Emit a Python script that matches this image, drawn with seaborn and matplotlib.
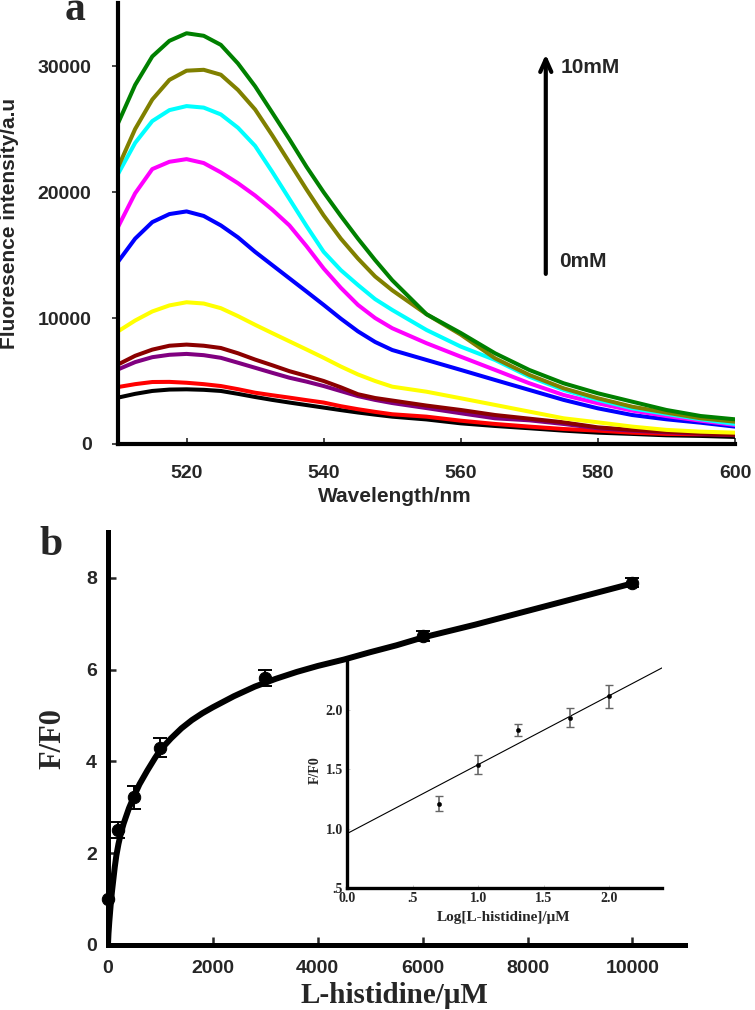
import numpy as np
import pandas as pd
import seaborn as sns
from matplotlib import pyplot as plt

# ---- panel a: emission spectra (0 mM -> 10 mM) ----
wavelength = [510, 512.5, 515, 517.5, 520, 522.5, 525, 527.5, 530, 532.5,
              535, 537.5, 540, 542.5, 545, 547.5, 550, 555, 560, 565,
              570, 575, 580, 585, 590, 595, 600]

spectra = {
    "0mM":  [3680, 3980, 4210, 4320, 4340, 4300, 4210, 3980, 3730, 3500,
             3290, 3090, 2890, 2690, 2500, 2330, 2170, 1950, 1640, 1430,
             1250, 1060, 900, 800, 690, 640, 560],
    "c1":   [4520, 4750, 4920, 4930, 4860, 4750, 4600, 4350, 4070, 3870,
             3680, 3480, 3290, 3000, 2760, 2550, 2360, 2170, 1850, 1590,
             1380, 1190, 1060, 900, 800, 770, 750],
    "c2":   [5920, 6500, 6890, 7080, 7150, 7050, 6840, 6450, 6050, 5650,
             5260, 4950, 4600, 4200, 3800, 3500, 3250, 2850, 2440, 2040,
             1880, 1590, 1250, 1060, 930, 820, 700],
    "c3":   [6310, 7000, 7490, 7800, 7890, 7800, 7620, 7200, 6700, 6250,
             5780, 5400, 5000, 4500, 3950, 3650, 3450, 3050, 2700, 2300,
             2010, 1720, 1320, 1120, 980, 850, 720],
    "c4":   [8940, 9800, 10520, 11000, 11250, 11150, 10780, 10150, 9460, 8800,
             8150, 7500, 6840, 6150, 5520, 5000, 4550, 4150, 3630, 3100,
             2570, 2040, 1720, 1380, 1120, 980, 900],
    "c5":   [14460, 16300, 17610, 18250, 18460, 18100, 17350, 16400, 15250, 14200,
             13150, 12100, 11040, 9950, 8940, 8100, 7460, 6670, 5880, 5080,
             4290, 3500, 2830, 2300, 1960, 1690, 1380],
    "c6":   [17220, 19900, 21820, 22400, 22610, 22300, 21560, 20700, 19720, 18600,
             17350, 15700, 13930, 12400, 11040, 10000, 9190, 8000, 6930, 5880,
             4820, 3890, 3230, 2650, 2220, 1850, 1510],
    "c7":   [21430, 23900, 25630, 26500, 26820, 26700, 26160, 25100, 23660, 21600,
             19450, 17300, 15250, 13800, 12620, 11500, 10640, 9050, 7730, 6670,
             5340, 4290, 3500, 2830, 2380, 1960, 1590],
    "c8":   [21950, 25000, 27340, 28900, 29630, 29700, 29310, 28100, 26550, 24500,
             22350, 20200, 18140, 16300, 14720, 13300, 12200, 10300, 8680, 6800,
             5480, 4420, 3630, 2960, 2490, 2040, 1770],
    "10mM": [25450, 28500, 30760, 32000, 32600, 32400, 31680, 30200, 28390, 26300,
             24190, 22000, 19980, 18100, 16300, 14600, 13000, 10300, 8810, 7200,
             5875, 4820, 4025, 3360, 2700, 2220, 1960],
}
spectra_colors = ["#000000", "#ff0000", "#800080", "#8b0000", "#ffff00",
                  "#0000ff", "#ff00ff", "#00ffff", "#808000", "#008000"]

a_xticks = [520, 540, 560, 580, 600]
a_yticks = [0, 10000, 20000, 30000]

# ---- panel b: F/F0 vs L-histidine ----
conc = [0, 200, 500, 1000, 3000, 6000, 10000]
ratio = [1.0, 2.51, 3.22, 4.30, 5.81, 6.74, 7.89]
ratio_err = [0.0, 0.17, 0.25, 0.20, 0.175, 0.11, 0.10]

# fitted curve
fit_conc = [0, 10, 25, 50, 75, 100, 130, 160, 200, 250, 300, 400, 500, 600,
            750, 900, 1000, 1200, 1400, 1600, 1800, 2000, 2400, 2800, 3200,
            3600, 4000, 4500, 5000, 5500, 6000, 7000, 8000, 9000, 10000]
fit_ratio = [0.0, 0.25, 0.5, 0.85, 1.15, 1.4, 1.7, 1.95, 2.2, 2.45, 2.65, 2.98,
             3.25, 3.5, 3.8, 4.08, 4.25, 4.5, 4.72, 4.9, 5.05, 5.18, 5.42, 5.63,
             5.8, 5.95, 6.08, 6.22, 6.38, 6.53, 6.7, 6.98, 7.28, 7.58, 7.88]

b_xticks = [0, 2000, 4000, 6000, 8000, 10000]
b_yticks = [0, 2, 4, 6, 8]

# ---- inset: F/F0 vs log concentration ----
log_conc = [0.699, 1.0, 1.301, 1.699, 2.0]
log_ratio = [1.21, 1.537, 1.825, 1.93, 2.11]
log_err = [0.06, 0.08, 0.05, 0.08, 0.10]
line_x = [0.0, 2.4]
line_y = [0.957, 2.35]

in_xticks = [0.0, 0.5, 1.0, 1.5, 2.0]
in_xlabels = ["0.0", ".5", "1.0", "1.5", "2.0"]
in_yticks = [0.5, 1.0, 1.5, 2.0]
in_ylabels = [".5", "1.0", "1.5", "2.0"]

sns.set_style("ticks")
plt.rcParams["font.family"] = ["Liberation Sans", "DejaVu Sans"]
SERIF = ["Liberation Serif", "DejaVu Serif"]

fig = plt.figure(figsize=(7.55, 10.1), dpi=100)


def style_spines(ax, width):
    for side in ("top", "right"):
        ax.spines[side].set_visible(False)
    for side in ("left", "bottom"):
        ax.spines[side].set_linewidth(width)
        ax.spines[side].set_color("black")


# ================= panel a =================
ax_a = fig.add_axes([0.1563, 0.5604, 0.8172, 0.4366])
spec_df = pd.DataFrame(
    [(w, v, name) for name, vals in spectra.items() for w, v in zip(wavelength, vals)],
    columns=["wavelength", "intensity", "conc"],
)
sns.lineplot(data=spec_df, x="wavelength", y="intensity", hue="conc",
             palette=spectra_colors, linewidth=2.9, legend=False, ax=ax_a)
ax_a.set_xlim(510, 600)
ax_a.set_ylim(0, 35000)
style_spines(ax_a, 3)
ax_a.set_xticks(a_xticks, [str(t) for t in a_xticks], fontsize=14, fontweight="bold")
ax_a.set_yticks(a_yticks, [str(t) for t in a_yticks], fontsize=14, fontweight="bold")
ax_a.tick_params(axis="x", direction="in", length=4, width=1.2, pad=15)
ax_a.tick_params(axis="y", direction="out", length=4, width=1.2, pad=15)
ax_a.set_xlabel("Wavelength/nm", fontsize=15, fontweight="bold")
ax_a.set_ylabel("Fluoresence intensity/a.u", fontsize=15, fontweight="bold")
ax_a.xaxis.set_label_coords(0.448, -0.097)
ax_a.yaxis.set_label_coords(-0.160, 0.5)

ax_a.annotate("", xy=(572.4, 31150), xytext=(572.4, 13280),
              arrowprops=dict(arrowstyle="->,head_length=0.9,head_width=0.4",
                              lw=3, color="black"))
ax_a.text(574.5, 29890, "10mM", fontsize=15, fontweight="bold", va="center", ha="left")
ax_a.text(574.3, 14480, "0mM", fontsize=15, fontweight="bold", va="center", ha="left")

# ================= panel b =================
ax_b = fig.add_axes([0.1430, 0.0644, 0.7642, 0.4089])
sns.lineplot(x=fit_conc, y=fit_ratio, color="black", linewidth=4.3, ax=ax_b)
ax_b.errorbar(conc, ratio, yerr=ratio_err, fmt="none", ecolor="black",
              elinewidth=1.4, capsize=5, capthick=1.4, zorder=3)
sns.scatterplot(x=conc, y=ratio, color="black", s=80, edgecolor="black",
                zorder=4, ax=ax_b, clip_on=False)
ax_b.set_xlim(0, 11000)
ax_b.set_ylim(0, 9)
style_spines(ax_b, 3.6)
ax_b.set_xticks(b_xticks, [str(t) for t in b_xticks], fontsize=14, fontweight="bold")
ax_b.set_yticks(b_yticks, [str(t) for t in b_yticks], fontsize=14, fontweight="bold")
ax_b.tick_params(axis="both", direction="in", length=6, width=1.8)
ax_b.tick_params(axis="x", pad=11)
ax_b.tick_params(axis="y", pad=8)
ax_b.set_xlabel("L-histidine/\u03bcM", fontsize=21, fontweight="bold", family=SERIF)
ax_b.set_ylabel("F/F0", fontsize=22, fontweight="bold", family=SERIF)
ax_b.xaxis.set_label_coords(0.497, -0.090)
ax_b.yaxis.set_label_coords(-0.071, 0.5)

# ================= inset =================
ax_in = fig.add_axes([0.4596, 0.1208, 0.4172, 0.2238])
ax_in.patch.set_alpha(0)
sns.lineplot(x=line_x, y=line_y, color="black", linewidth=0.8, ax=ax_in)
ax_in.errorbar(log_conc, log_ratio, yerr=log_err, fmt="none", ecolor="0.4",
               elinewidth=1.2, capsize=3, capthick=1.0, zorder=3)
sns.scatterplot(x=log_conc, y=log_ratio, color="black", s=10, edgecolor="black",
                zorder=4, ax=ax_in)
ax_in.set_xlim(0, 2.4)
ax_in.set_ylim(0.5, 2.4)
style_spines(ax_in, 2.4)
ax_in.set_xticks(in_xticks, in_xlabels, fontsize=10, fontweight="bold", family=SERIF)
ax_in.set_yticks(in_yticks, in_ylabels, fontsize=10, fontweight="bold", family=SERIF)
ax_in.tick_params(axis="both", direction="in", length=2, width=0.6, color="0.75", pad=3)
ax_in.set_xlabel("Log[L-histidine]/\u03bcM", fontsize=11, fontweight="bold", family=SERIF)
ax_in.set_ylabel("F/F0", fontsize=10, fontweight="bold", family=SERIF)
ax_in.xaxis.set_label_coords(0.498, -0.10)
ax_in.yaxis.set_label_coords(-0.079, 0.52)

# panel letters
fig.text(75 / 755, 1 - 20 / 1010, "a", fontsize=30, fontweight="bold",
         family=SERIF, ha="center", va="baseline")
fig.text(51 / 755, 1 - 545 / 1010, "b", fontsize=30, fontweight="bold",
         family=SERIF, ha="center", va="center")

fig.savefig("out.png", dpi=100)
plt.close(fig)
